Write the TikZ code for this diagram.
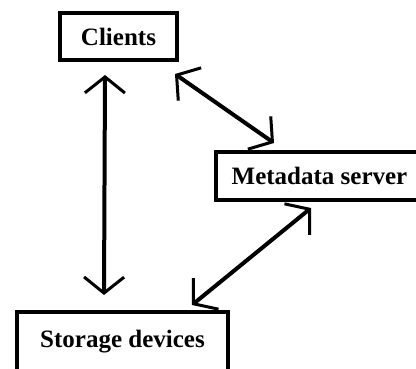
\documentclass[tikz,border=0pt]{standalone}
\usepackage{fontspec}
\setmainfont{Liberation Serif}
\usetikzlibrary{arrows.meta}
\tikzset{
	box/.style={draw,line width=4pt,inner sep=0pt,font=\fontsize{25}{30}\selectfont\bfseries},
	twoway/.style={line width=4pt,{Straight Barb[length=16pt,width=40pt,line width=3pt]}-{Straight Barb[length=16pt,width=40pt,line width=3pt]}}
}
\begin{document}
\begin{tikzpicture}[x=1pt,y=-1pt]
	% page
		\clip (0,0) rectangle (416,369);
	%%%%%%%%%%%%%%%%%%%
	%      boxes      %
	%%%%%%%%%%%%%%%%%%%
		\node [box,minimum width=117pt,minimum height=47pt] (clients) at (118.5,36.5) {Clients};
		\node [box,minimum width=207pt,minimum height=48pt] (meta) at (319.5,176) {Metadata server};
		\node [box,minimum width=211pt,minimum height=60pt] (storage) at (122.5,342) {Storage devices};
	%%%%%%%%%%%%%%%%%%%
	%     arrows      %
	%%%%%%%%%%%%%%%%%%%
		% clients <-> storage
			\draw [twoway] ([shift={(-13.5,13)}]clients.south) -- ([shift={(-18.5,-15)}]storage.north);
		% clients <-> metadata
			\draw [twoway] ([shift={(-4,12)}]clients.south east) -- ([shift={(60,-7)}]meta.north west);
		% metadata <-> storage
			\draw [twoway] ([shift={(97,6)}]meta.south west) -- ([shift={(-38,-5)}]storage.north east);
\end{tikzpicture}
\end{document}
